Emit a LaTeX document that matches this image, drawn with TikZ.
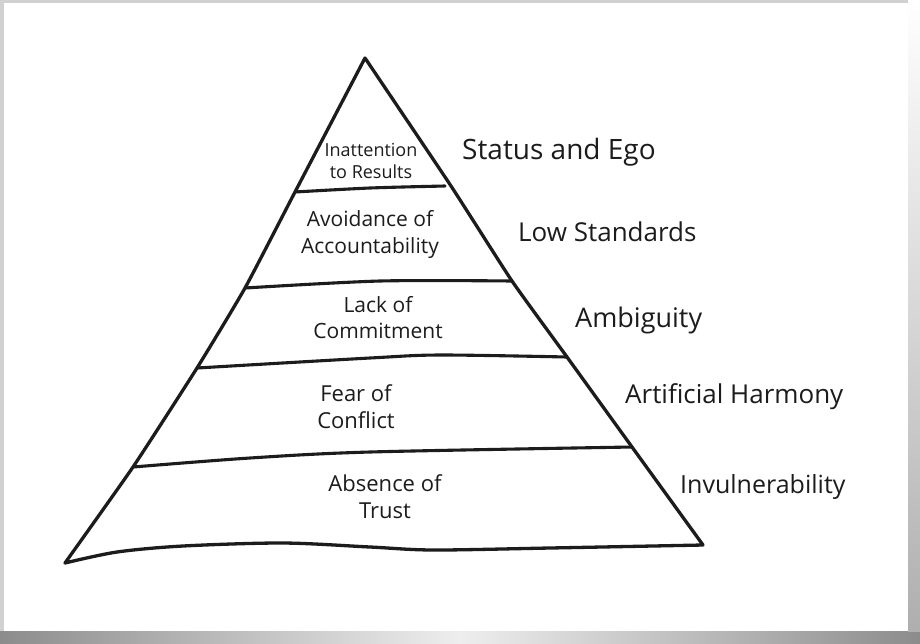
\documentclass[tikz,border=0pt]{standalone}
\usepackage{fontspec}
\setmainfont{Open Sans}
\definecolor{ink}{HTML}{1C1C1C}
\definecolor{shade}{HTML}{8C8C8C}
\begin{document}
\begin{tikzpicture}[x=1pt,y=-1pt,
  edge/.style={line width=3.3pt, draw=ink, line cap=round, line join=round},
  band/.style={line width=3.1pt, draw=ink, line cap=round},
  inlab/.style={text=ink, align=center, inner sep=0pt},
  sidelab/.style={text=ink, anchor=west, inner sep=0pt}]
\useasboundingbox (0,0) rectangle (920,643);
% card and shadow
\fill[shade!40] (0,0) rectangle (920,643);
\shade[left color=shade, right color=shade, middle color=white!85!shade] (0,631) rectangle (920,643);
\shade[top color=white, bottom color=shade!70] (908,0) rectangle (920,631);
\fill[white] (4,3) rectangle (908,631);
% pyramid outline
\draw[edge] plot[smooth, tension=0.3] coordinates {(65,563) (133,467) (197,368) (245,288) (295,192) (365,58)}
  -- plot[smooth, tension=0.3] coordinates {(365,58) (451,186) (512,281) (567,357) (632,447) (703,545)}
  -- plot[smooth, tension=0.5] coordinates {(703,545) (550,548) (433,550) (370,547) (283,543) (183,546) (117,552) (65,563)};
% band dividers
\draw[band] plot[smooth, tension=0.5] coordinates {(295,192) (370,188) (445,186)};
\draw[band] plot[smooth, tension=0.5] coordinates {(245,288) (380,281) (512,281)};
\draw[band] plot[smooth, tension=0.5] coordinates {(197,368) (370,358) (440,355) (567,357)};
\draw[band] plot[smooth, tension=0.5] coordinates {(133,467) (250,458) (370,452) (632,447)};
% labels inside
\node[inlab, font=\fontsize{18}{22}\selectfont] (l1) at (371,161) {Inattention\\to Results};
\node[inlab, font=\fontsize{21}{27}\selectfont] (l2) at (370,234) {Avoidance of\\Accountability};
\node[inlab, font=\fontsize{21}{26}\selectfont] (l3) at (378,318) {Lack of\\Commitment};
\node[inlab, font=\fontsize{22}{27}\selectfont] (l4) at (356,407) {Fear of\\Conflict};
\node[inlab, font=\fontsize{22}{27}\selectfont] (l5) at (385,497) {Absence of\\Trust};
% labels outside
\node[sidelab, font=\fontsize{28}{30}\selectfont] (r1) at (462,152) {Status and Ego};
\node[sidelab, font=\fontsize{26}{30}\selectfont] (r2) at (518,232) {Low Standards};
\node[sidelab, font=\fontsize{27}{30}\selectfont] (r3) at (575,320) {Ambiguity};
\node[sidelab, font=\fontsize{26}{30}\selectfont] (r4) at (625,397) {Artificial Harmony};
\node[sidelab, font=\fontsize{25}{30}\selectfont] (r5) at (680,487) {Invulnerability};
\end{tikzpicture}
\end{document}
